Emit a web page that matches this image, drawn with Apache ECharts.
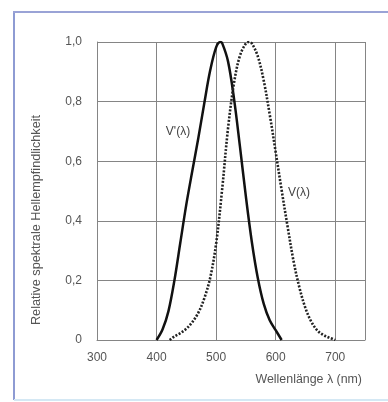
<!DOCTYPE html>
<html>
<head>
<meta charset="utf-8">
<script src="https://cdn.jsdelivr.net/npm/echarts@6/dist/echarts.min.js"></script>
<style>
html,body{margin:0;padding:0;background:#fff;}
#c{width:388px;height:402px;}
</style>
</head>
<body>
<div id="c"></div>
<script>
// Wavelengths (nm) and values
var scotWl  = [400,410,420,430,440,450,460,470,480,490,500,507,510,520,530,540,550,560,570,580,590,600,610];
var scotVal = [0.0,0.035,0.097,0.2,0.328,0.455,0.567,0.676,0.793,0.904,0.982,1.0,0.997,0.935,0.811,0.65,0.481,0.329,0.208,0.121,0.066,0.033,0.0];
var photWl  = [422,430,440,450,460,470,480,490,500,510,520,530,540,550,555,560,570,580,590,600,610,620,630,640,650,660,670,680,690,700];
var photVal = [0.0,0.012,0.023,0.038,0.06,0.091,0.139,0.208,0.323,0.503,0.71,0.862,0.954,0.995,1.0,0.995,0.952,0.87,0.757,0.631,0.503,0.381,0.265,0.175,0.107,0.061,0.032,0.017,0.008,0.0];
var xTicks = [300,400,500,600,700];
var yTicks = [0,0.2,0.4,0.6,0.8,1.0];
var labelScot = "V'(λ)";
var labelPhot = "V(λ)";
var xName = "Wellenlänge λ (nm)";
var yName = "Relative spektrale Hellempfindlichkeit";

function pairs(xs, ys){ return xs.map(function(x,i){ return [x, ys[i]]; }); }

var font = "'Liberation Sans', Arial, sans-serif";
var txtColor = '#555';
var gridColor = '#858585';

var chart = echarts.init(document.getElementById('c'), null, {renderer:'canvas'});
chart.setOption({
  animation:false,
  backgroundColor:'#fff',
  grid:{left:97, right:23, top:42, bottom:62, containLabel:false},
  xAxis:{
    type:'value', min:300, max:750, interval:100,
    axisLine:{show:true, lineStyle:{color:gridColor, width:1}},
    axisTick:{show:false},
    splitLine:{show:true, lineStyle:{color:gridColor, width:1}},
    axisLabel:{
      color:txtColor, fontSize:12, fontFamily:font, margin:12, showMaxLabel:false,
      formatter:function(v){ return xTicks.indexOf(v) >= 0 ? String(v) : ''; }
    }
  },
  yAxis:{
    type:'value', min:0, max:1, interval:0.2,
    axisLine:{show:true, lineStyle:{color:gridColor, width:1}},
    axisTick:{show:false},
    splitLine:{show:true, lineStyle:{color:gridColor, width:1}},
    axisLabel:{
      color:txtColor, fontSize:12, fontFamily:font, margin:15,
      formatter:function(v){
        var r = Math.round(v*10)/10;
        if (r === 0) return '0';
        return r.toFixed(1).replace('.', ',');
      }
    }
  },
  series:[
    {
      type:'line', data:pairs(scotWl, scotVal), smooth:0.35, showSymbol:false, symbol:'none',
      lineStyle:{color:'#111', width:2.5}
    },
    {
      type:'line', data:pairs(photWl, photVal), smooth:0.35, showSymbol:false, symbol:'none',
      lineStyle:{color:'#222', width:2.6, type:[2,1.6]}
    }
  ],
  graphic:[
    {type:'line', shape:{x1:14, y1:12, x2:14, y2:400}, style:{stroke:'#8e9bd3', lineWidth:2}},
    {type:'line', shape:{x1:13, y1:12, x2:388, y2:12}, style:{stroke:'#9aa3d6', lineWidth:2}},
    {type:'line', shape:{x1:14, y1:400, x2:388, y2:400}, style:{stroke:'#d4e8f4', lineWidth:2}},
    {type:'text', x:178, y:132, style:{text:labelScot, fill:'#444', font:'12px ' + font, textAlign:'center', textVerticalAlign:'middle'}},
    {type:'text', x:299, y:193, style:{text:labelPhot, fill:'#444', font:'12px ' + font, textAlign:'center', textVerticalAlign:'middle'}},
    {type:'text', x:362, y:380, style:{text:xName, fill:txtColor, font:'12.4px ' + font, textAlign:'right', textVerticalAlign:'middle'}},
    {type:'text', x:36, y:220, rotation:Math.PI/2, style:{text:yName, fill:txtColor, font:'12.7px ' + font, textAlign:'center', textVerticalAlign:'middle'}}
  ]
});
</script>
</body>
</html>
